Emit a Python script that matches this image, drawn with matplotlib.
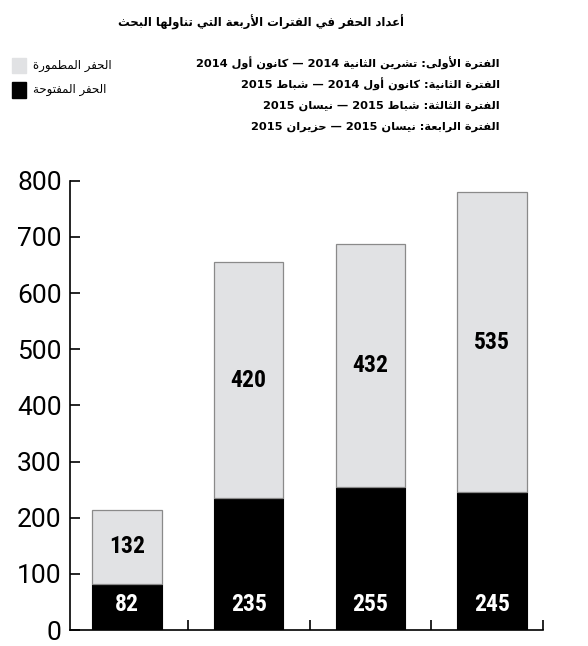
import numpy as np
import matplotlib
matplotlib.use("Agg")
from matplotlib import pyplot as plt
from matplotlib.patches import Rectangle

# data
periods = ["1", "2", "3", "4"]
open_pits = [82, 235, 255, 245]
buried_pits = [132, 420, 432, 535]
y_ticks = [0, 100, 200, 300, 400, 500, 600, 700, 800]

title = "أعداد الحفر في الفترات الأربعة التي تناولها البحث"
period_lines = [
    "الفترة الأولى: تشرين الثانية 2014 — كانون أول 2014",
    "الفترة الثانية: كانون أول 2014 — شباط 2015",
    "الفترة الثالثة: شباط 2015 — نيسان 2015",
    "الفترة الرابعة: نيسان 2015 — حزيران 2015",
]
legend_buried = "الحفر المطمورة"
legend_open = "الحفر المفتوحة"

GREY = "#e1e2e4"
EDGE = "#8a8a8a"

# matplotlib does not shape arabic, so do a small reshaping here
# (isolated, final, initial, medial)
FORMS = {
    "ا": (0xFE8D, 0xFE8E, None, None),
    "أ": (0xFE83, 0xFE84, None, None),
    "ب": (0xFE8F, 0xFE90, 0xFE91, 0xFE92),
    "ة": (0xFE93, 0xFE94, None, None),
    "ت": (0xFE95, 0xFE96, 0xFE97, 0xFE98),
    "ث": (0xFE99, 0xFE9A, 0xFE9B, 0xFE9C),
    "ح": (0xFEA1, 0xFEA2, 0xFEA3, 0xFEA4),
    "د": (0xFEA9, 0xFEAA, None, None),
    "ر": (0xFEAD, 0xFEAE, None, None),
    "ز": (0xFEAF, 0xFEB0, None, None),
    "س": (0xFEB1, 0xFEB2, 0xFEB3, 0xFEB4),
    "ش": (0xFEB5, 0xFEB6, 0xFEB7, 0xFEB8),
    "ط": (0xFEC1, 0xFEC2, 0xFEC3, 0xFEC4),
    "ع": (0xFEC9, 0xFECA, 0xFECB, 0xFECC),
    "ف": (0xFED1, 0xFED2, 0xFED3, 0xFED4),
    "ك": (0xFED9, 0xFEDA, 0xFEDB, 0xFEDC),
    "ل": (0xFEDD, 0xFEDE, 0xFEDF, 0xFEE0),
    "م": (0xFEE1, 0xFEE2, 0xFEE3, 0xFEE4),
    "ن": (0xFEE5, 0xFEE6, 0xFEE7, 0xFEE8),
    "ه": (0xFEE9, 0xFEEA, 0xFEEB, 0xFEEC),
    "و": (0xFEED, 0xFEEE, None, None),
    "ى": (0xFEEF, 0xFEF0, None, None),
    "ي": (0xFEF1, 0xFEF2, 0xFEF3, 0xFEF4),
    "لا": (0xFEFB, 0xFEFC, None, None),
    "لأ": (0xFEF7, 0xFEF8, None, None),
}


def shape(text):
    chars = []
    i = 0
    while i < len(text):
        if text[i] == "ل" and i + 1 < len(text) and text[i + 1] in "اأ":
            chars.append(text[i:i + 2])
            i += 2
        else:
            chars.append(text[i])
            i += 1
    out = []
    for k, c in enumerate(chars):
        if c not in FORMS:
            out.append(c)
            continue
        f = FORMS[c]
        prev = chars[k - 1] if k > 0 else None
        nxt = chars[k + 1] if k + 1 < len(chars) else None
        join_prev = prev in FORMS and FORMS[prev][2] is not None
        join_next = f[2] is not None and nxt in FORMS
        if join_prev and join_next:
            out.append(chr(f[3]))
        elif join_prev:
            out.append(chr(f[1]))
        elif join_next:
            out.append(chr(f[2]))
        else:
            out.append(chr(f[0]))
    s = "".join(out)
    # right to left, keep digit runs as they are
    runs = []
    for ch in s:
        d = ch.isdigit()
        if runs and runs[-1][0] == d:
            runs[-1][1] += ch
        else:
            runs.append([d, ch])
    return "".join(r if d else r[::-1] for d, r in reversed(runs))


W, H = 588, 646
fig = plt.figure(figsize=(W / 100, H / 100), dpi=100)
ax = fig.add_axes([70 / W, 16 / H, (543 - 70) / W, (630 - 180.7) / H])

x = np.arange(len(periods))
width = 0.57
ax.bar(x, open_pits, width, color="black", edgecolor="black", linewidth=0.8, zorder=2)
ax.bar(x, buried_pits, width, bottom=open_pits, color=GREY, edgecolor=EDGE,
       linewidth=0.9, zorder=2)

num_font = dict(family=["Liberation Sans Narrow", "Roboto Condensed", "DejaVu Sans"],
                weight="bold", fontsize=17)
for xi, o, b in zip(x, open_pits, buried_pits):
    ax.text(xi, 45, str(o), color="white", ha="center", va="center", **num_font)
    ax.text(xi, o + b / 2, str(b), color="black", ha="center", va="center", **num_font)

ax.set_ylim(0, 800)
ax.set_xlim(-0.47, 3.42)
ax.set_yticks(y_ticks)
ax.set_yticklabels([str(t) for t in y_ticks], family="Roboto", weight="normal",
                   fontsize=19, color="black")
ax.set_xticks(list(x[:-1] + 0.5) + [3.42])
ax.set_xticklabels([])
ax.tick_params(axis="both", direction="in", length=7, width=1.2, color="black")
ax.tick_params(axis="y", pad=6)
for side in ["top", "right"]:
    ax.spines[side].set_visible(False)
for side in ["left", "bottom"]:
    ax.spines[side].set_linewidth(1.2)

ar_font = ["DejaVu Sans"]
fig.text(261 / W, 1 - 22 / H, shape(title), ha="center", va="center",
         family=ar_font, weight="bold", fontsize=8.4)

for i, line in enumerate(period_lines):
    fig.text(500 / W, 1 - (63 + 21.3 * i) / H, shape(line), ha="right", va="center",
             family=ar_font, weight="bold", fontsize=8.2)

fig.patches.append(Rectangle((12 / W, 1 - 73 / H), 14 / W, 15 / H, color=GREY,
                             transform=fig.transFigure))
fig.patches.append(Rectangle((12 / W, 1 - 98 / H), 14 / W, 16 / H, color="black",
                             transform=fig.transFigure))
fig.text(33 / W, 1 - 66 / H, shape(legend_buried), ha="left", va="center",
         family=ar_font, fontsize=8.5)
fig.text(33 / W, 1 - 90 / H, shape(legend_open), ha="left", va="center",
         family=ar_font, fontsize=8.5)

fig.savefig("out.png", dpi=100)
